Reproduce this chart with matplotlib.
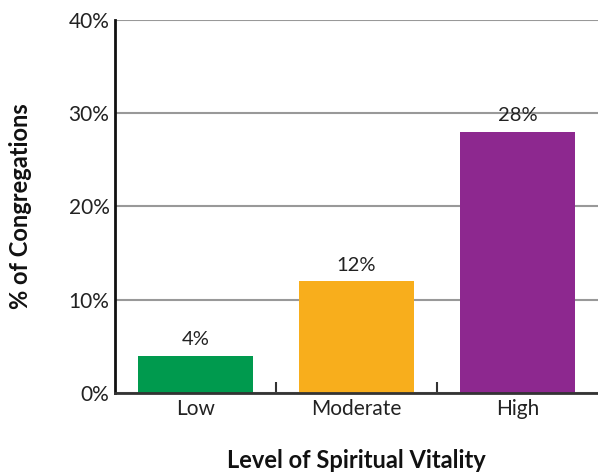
import matplotlib.pyplot as plt
import numpy as np

plt.rcParams['font.family'] = ['Lato', 'DejaVu Sans']

categories = ["Low", "Moderate", "High"]
values = [4, 12, 28]
labels = ["4%", "12%", "28%"]
colors = ["#009A4E", "#F8AE1C", "#8D288F"]
yticks = [0, 10, 20, 30, 40]

fig = plt.figure(figsize=(5.98, 4.76), dpi=100)
ax = fig.add_axes([0.1923, 0.1744, 0.8077, 0.7836])

x = np.arange(len(categories))
ax.bar(x, values, width=0.72, color=colors, zorder=3)

for xi, v, lab in zip(x, values, labels):
    ax.text(xi, v + 0.8, lab, ha="center", va="bottom", fontsize=14.5, color="#222222")

ax.set_xlim(-0.5, 2.5)
ax.set_ylim(0, 40)
ax.set_yticks(yticks)
ax.set_yticklabels([f"{t}%" for t in yticks], fontsize=15, color="#222222")
ax.yaxis.grid(True, color="#999999", linewidth=1.5, zorder=0)
ax.tick_params(axis="y", length=0, pad=4)

ax.set_xticks(x)
ax.set_xticklabels(categories, fontsize=15, color="#222222")
ax.tick_params(axis="x", length=0, pad=4)
ax.set_xticks([0.5, 1.5], minor=True)
ax.tick_params(axis="x", which="minor", direction="in", length=8, width=1.5, color="#333333")

for s in ["top", "right"]:
    ax.spines[s].set_visible(False)
ax.spines["left"].set_color("#111111")
ax.spines["left"].set_linewidth(2)
ax.spines["bottom"].set_color("#333333")
ax.spines["bottom"].set_linewidth(2)
ax.spines["bottom"].set_zorder(4)

ax.set_xlabel("Level of Spiritual Vitality", fontsize=17, fontweight="bold", labelpad=22, color="#111111")
ax.set_ylabel("% of Congregations", fontsize=17, fontweight="bold", labelpad=26, color="#111111")

plt.savefig("out.png")
